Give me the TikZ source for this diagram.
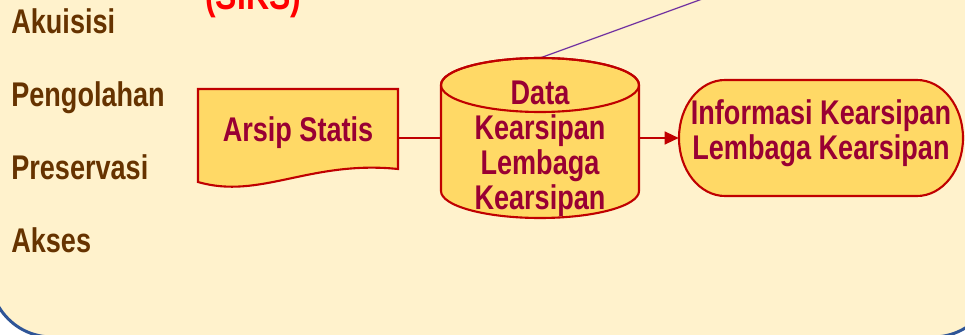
\documentclass[tikz,border=0pt]{standalone}
\usepackage{fontspec}
\setmainfont{Liberation Sans}[FakeStretch=0.79]
\usetikzlibrary{arrows.meta}

\definecolor{paper}{HTML}{FFF2CC}
\definecolor{frame}{HTML}{2F5597}
\definecolor{boxfill}{HTML}{FFD966}
\definecolor{boxline}{HTML}{C00000}
\definecolor{boxtext}{HTML}{990033}
\definecolor{listtext}{HTML}{663300}
\definecolor{linkline}{HTML}{7030A0}

\tikzset{
  shapeline/.style={draw=boxline, line width=1.2pt, fill=boxfill},
  boxlabel/.style={font=\bfseries\fontsize{19.5}{20}\selectfont, text=boxtext, align=center},
  menu/.style={font=\bfseries\fontsize{19.5}{20}\selectfont, text=listtext, anchor=base west, inner sep=0pt},
}

\begin{document}
\begin{tikzpicture}[x=0.02cm,y=0.02cm]
\useasboundingbox (0,0) rectangle (965,335);
\clip (0,0) rectangle (965,335);
\fill[white] (0,0) rectangle (965,335);
\filldraw[fill=paper, draw=frame, line width=1.7pt, rounded corners=1.24cm] (-10,-2) rectangle (995,420);

% title, runs off the top edge
\node[anchor=base west, inner sep=0pt, text=red, font=\bfseries\fontsize{23}{24}\selectfont] (siks) at (205,325) {(SIKS)};

% left column
\node[menu] (akuisisi) at (11,301) {Akuisisi};
\node[menu] (pengolahan) at (11,228) {Pengolahan};
\node[menu] (preservasi) at (11,155) {Preservasi};
\node[menu] (akses) at (11,82) {Akses};

% line leaving the top of the database
\coordinate (cyltop) at (540,277);
\coordinate (uplink) at (760,357);
\draw[linkline, line width=0.7pt] (cyltop) -- (uplink);

% document shape
\filldraw[shapeline] (198,246) -- (398,246) -- (398,166) .. controls (310,175) and (260,135) .. (198,153) -- cycle;
\node[boxlabel, minimum width=4cm, text height=0.34cm, text depth=0.18cm] (arsip) at (298,197) {Arsip Statis};

% database cylinder
\filldraw[shapeline] (441,250) -- (441,144) arc[start angle=180, end angle=360, x radius=99, y radius=27]
  -- (639,250) arc[start angle=0, end angle=180, x radius=99, y radius=27] -- cycle;
\draw[boxline, line width=1.2pt] (540,250) ellipse[x radius=99, y radius=27];
\node[boxlabel, minimum width=3.96cm, text height=3.02cm, text depth=0.14cm] (data) at (540,197) {Data\\Kearsipan\\Lembaga\\Kearsipan};

% terminator
\filldraw[shapeline] (725,255) -- (917,255) arc[start angle=90, end angle=-90, x radius=46, y radius=58]
  -- (725,139) arc[start angle=270, end angle=90, x radius=46, y radius=58] -- cycle;
\node[boxlabel, minimum width=5.68cm, minimum height=2.32cm, text height=1.02cm, text depth=0.14cm] (info) at (821,197) {Informasi Kearsipan\\Lembaga Kearsipan};

\draw[boxline, line width=0.6pt] (arsip.east) -- (data.west);
\draw[boxline, line width=0.8pt, -{Triangle[length=0.28cm,width=0.26cm]}] (data.east) -- (info.west);
\end{tikzpicture}
\end{document}
